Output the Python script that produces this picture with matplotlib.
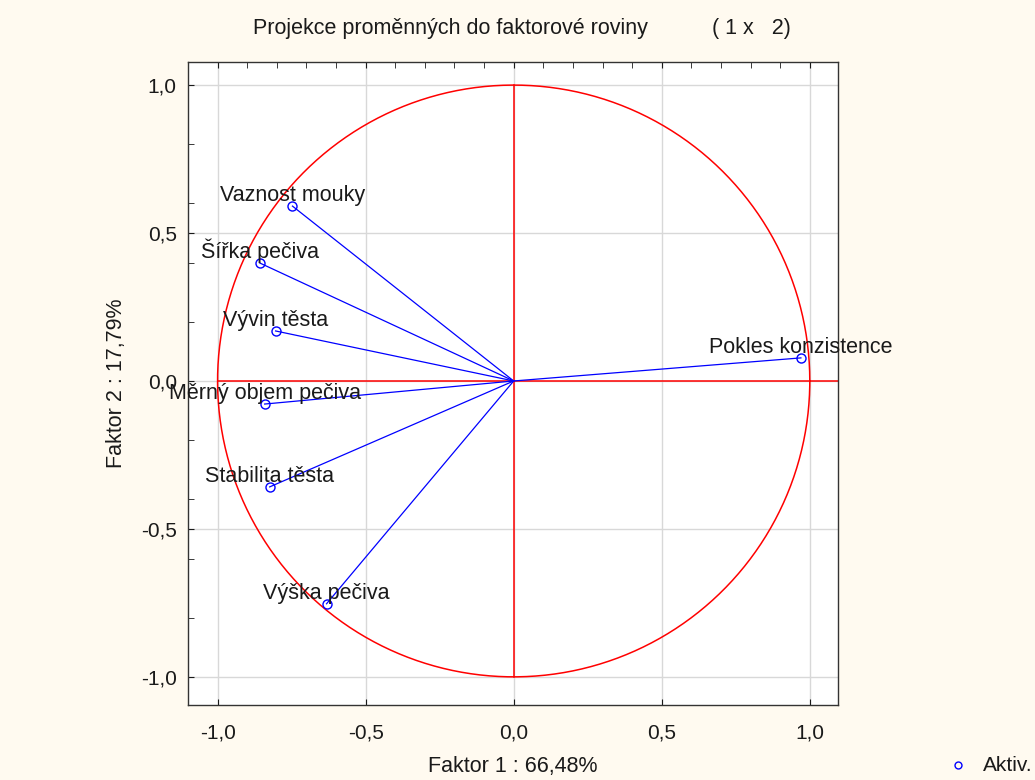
import numpy as np
import matplotlib
matplotlib.use("Agg")
import matplotlib.pyplot as plt
from matplotlib.ticker import MultipleLocator, FuncFormatter

plt.rcParams['font.family'] = ['Liberation Sans', 'DejaVu Sans']

# loadings of the variables on factor 1 and factor 2
names = ["Vaznost mouky", "Šířka pečiva", "Vývin těsta", "Měrný objem pečiva",
         "Stabilita těsta", "Výška pečiva", "Pokles konzistence"]
f1 = [-0.747, -0.858, -0.804, -0.841, -0.824, -0.632, 0.970]
f2 = [0.591, 0.399, 0.169, -0.078, -0.358, -0.753, 0.078]

txt = '#1a1a1a'
fig = plt.figure(figsize=(10.35, 7.8), dpi=100, facecolor='#fffaf0')
ax = fig.add_axes([0.1816, 0.0962, 0.628, 0.8243])
ax.set_facecolor('white')

# unit circle and axes cross
th = np.linspace(0, 2 * np.pi, 400)
ax.plot(np.cos(th), np.sin(th), color='red', lw=1.1, zorder=2)
ax.plot([-1, 1.1], [0, 0], color='red', lw=1.1, zorder=2)
ax.plot([0, 0], [-1, 1], color='red', lw=1.1, zorder=2)

for x, y, n in zip(f1, f2, names):
    ax.plot([0, x], [0, y], color='blue', lw=0.9, zorder=3)
    ax.annotate(n, (x, y), xytext=(0, 3.5), textcoords='offset points',
                ha='center', va='baseline', fontsize=15.5, color=txt, zorder=5)
ax.plot(f1, f2, 'o', mfc='none', mec='blue', ms=6.5, mew=1.0, zorder=4)

ax.set_xlim(-1.1, 1.095)
ax.set_ylim(-1.095, 1.078)

fmt = FuncFormatter(lambda v, p: f"{v:.1f}".replace('.', ',').replace('-0,0', '0,0'))
ax.xaxis.set_major_locator(MultipleLocator(0.5))
ax.yaxis.set_major_locator(MultipleLocator(0.5))
ax.xaxis.set_major_formatter(fmt)
ax.yaxis.set_major_formatter(fmt)
ax.xaxis.set_minor_locator(MultipleLocator(0.1))
ax.yaxis.set_minor_locator(MultipleLocator(0.2))
ax.grid(True, which='major', color='#d8d8d8', lw=1.0, zorder=0)
ax.set_axisbelow(True)
ax.tick_params(axis='both', which='both', direction='in', labelsize=15, colors=txt)
ax.tick_params(axis='x', which='major', length=4, pad=13, top=True)
ax.tick_params(axis='x', which='minor', length=4, top=True, bottom=False)
ax.tick_params(axis='y', which='major', length=4, pad=8)
ax.tick_params(axis='y', which='minor', length=4)
for s in ax.spines.values():
    s.set_color('#333333')
    s.set_linewidth(1.0)

ax.set_xlabel("Faktor 1 : 66,48%", fontsize=15.5, labelpad=10, color=txt)
ax.set_ylabel("Faktor 2 : 17,79%", fontsize=15.5, labelpad=10, color=txt)
fig.text(0.2444, 0.964, "Projekce proměnných do faktorové roviny",
         ha='left', va='center', fontsize=15.5, color=txt)
fig.text(0.688, 0.964, "( 1 x   2)", ha='left', va='center', fontsize=15.5, color=txt)

# legend entry
fig.lines.append(plt.Line2D([0.9256], [0.0192], marker='o', mfc='none', mec='blue',
                            ms=5, mew=1.0, transform=fig.transFigure))
fig.text(0.95, 0.0192, "Aktiv.", ha='left', va='center', fontsize=15, color=txt)

fig.savefig("out.png", dpi=100, facecolor=fig.get_facecolor())
